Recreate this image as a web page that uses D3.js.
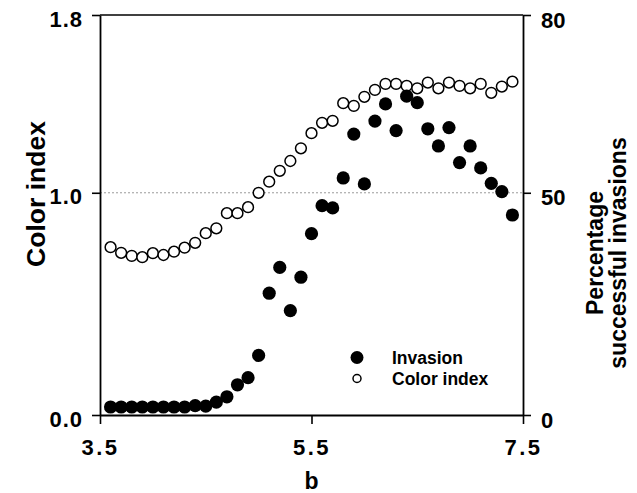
<!DOCTYPE html>
<html>
<head>
<meta charset="utf-8">
<script src="https://cdn.jsdelivr.net/npm/d3@7"></script>
<style>
  html, body { margin: 0; padding: 0; background: #fff; }
  svg { display: block; }
  text { font-family: "Liberation Sans", Arial, Helvetica, sans-serif; font-weight: bold; fill: #000; }
</style>
</head>
<body>
<svg id="chart" width="637" height="493"></svg>
<script>
// ---- data ----
const bValues = [3.6,3.7,3.8,3.9,4.0,4.1,4.2,4.3,4.4,4.5,4.6,4.7,4.8,4.9,5.0,5.1,5.2,5.3,5.4,5.5,
                 5.6,5.7,5.8,5.9,6.0,6.1,6.2,6.3,6.4,6.5,6.6,6.7,6.8,6.9,7.0,7.1,7.2,7.3,7.4];
const colorIndex = [0.755,0.730,0.716,0.710,0.728,0.720,0.735,0.753,0.775,0.818,0.840,0.908,0.908,0.935,1.000,
                    1.050,1.099,1.143,1.200,1.268,1.315,1.324,1.403,1.391,1.432,1.463,1.490,1.490,1.481,1.470,
                    1.496,1.470,1.496,1.481,1.470,1.490,1.450,1.478,1.500];
const invasion = [1.8,1.8,1.8,1.8,1.8,1.8,1.8,1.8,2.1,2.0,2.9,4.1,6.8,8.4,13.4,27.4,33.2,23.5,31.0,40.8,
                  47.1,46.6,52.5,59.9,51.5,62.1,65.0,60.5,66.3,65.2,60.8,57.9,61.0,55.1,57.9,54.2,51.6,50.2,45.0];
const xTicks = [3.5, 5.5, 7.5];
const leftTicks = [0.0, 1.0, 1.8];
const rightTicks = [0, 50, 80];
const legendLabels = ["Invasion", "Color index"];

// ---- layout ----
const svg = d3.select("#chart");
const L = 100, R = 523, T = 15, B = 415;

const x = d3.scaleLinear().domain([3.5, 7.5]).range([L, R]);
const yL = d3.scaleLinear().domain([0, 1.8]).range([B, T]);
// right axis as printed: 0 at bottom, 50 level with 1.0, 80 at top
const yR = d3.scaleLinear().domain([0, 50, 80]).range([B, yL(1.0), T]);

// gridline at 1.0
svg.append("line")
  .attr("x1", L).attr("x2", R).attr("y1", yL(1.0)).attr("y2", yL(1.0))
  .attr("stroke", "#9a9a9a").attr("stroke-width", 1).attr("stroke-dasharray", "2,2");

// top border
svg.append("line")
  .attr("x1", L).attr("x2", R).attr("y1", T).attr("y2", T)
  .attr("stroke", "#000").attr("stroke-width", 1.5);

function styleAxis(g, fs) {
  g.select(".domain").attr("stroke", "#000").attr("stroke-width", 1.8);
  g.selectAll(".tick line").attr("stroke", "#000").attr("stroke-width", 1.6);
  g.selectAll(".tick text").style("font-size", fs + "px").style("font-family", '"Liberation Sans", Arial, sans-serif').style("font-weight", "bold").attr("fill", "#000");
}

const gx = svg.append("g").attr("transform", `translate(0,${B})`)
  .call(d3.axisBottom(x).tickValues(xTicks).tickFormat(d3.format(".1f")).tickSize(9).tickSizeOuter(0).tickPadding(15));
styleAxis(gx, 22);
gx.selectAll(".tick text").style("letter-spacing", "2.5px");

const gl = svg.append("g").attr("transform", `translate(${L},0)`)
  .call(d3.axisLeft(yL).tickValues(leftTicks).tickFormat(d3.format(".1f")).tickSize(8).tickSizeOuter(0).tickPadding(9));
styleAxis(gl, 22);
gl.selectAll(".tick text").attr("dy", "0.5em").style("letter-spacing", "1px");

const gr = svg.append("g").attr("transform", `translate(${R},0)`)
  .call(d3.axisRight(yR).tickValues(rightTicks).tickFormat(d3.format("d")).tickSize(8).tickSizeOuter(0).tickPadding(10));
styleAxis(gr, 22);
gr.selectAll(".tick text").attr("dy", "0.55em");

// axis titles
svg.append("text").attr("x", x(5.5)).attr("y", 489).attr("text-anchor", "middle")
  .style("font-size", "23px").text("b");
svg.append("text").attr("transform", `translate(45,194) rotate(-90)`).attr("text-anchor", "middle")
  .style("font-size", "26.5px").text("Color index");
svg.append("text").attr("transform", `translate(603,253) rotate(-90)`).attr("text-anchor", "middle")
  .style("font-size", "23px").text("Percentage");
svg.append("text").attr("transform", `translate(626,253) rotate(-90)`).attr("text-anchor", "middle")
  .style("font-size", "23px").text("successful invasions");

// points
svg.append("g").selectAll("circle.ci").data(bValues).join("circle")
  .attr("cx", (d) => x(d)).attr("cy", (d, i) => yL(colorIndex[i])).attr("r", 5.4)
  .attr("fill", "#fff").attr("stroke", "#000").attr("stroke-width", 1.5);

svg.append("g").selectAll("circle.inv").data(bValues).join("circle")
  .attr("cx", (d) => x(d)).attr("cy", (d, i) => yR(invasion[i])).attr("r", 6.6)
  .attr("fill", "#000");

// legend
const lg = svg.append("g");
lg.append("circle").attr("cx", 357).attr("cy", 357.5).attr("r", 6.5).attr("fill", "#000");
lg.append("circle").attr("cx", 357).attr("cy", 378.5).attr("r", 4).attr("fill", "#fff").attr("stroke", "#000").attr("stroke-width", 1.5);
lg.append("text").attr("x", 392).attr("y", 364).style("font-size", "17.5px").text(legendLabels[0]);
lg.append("text").attr("x", 392).attr("y", 384.5).style("font-size", "17.5px").text(legendLabels[1]);
</script>
</body>
</html>
